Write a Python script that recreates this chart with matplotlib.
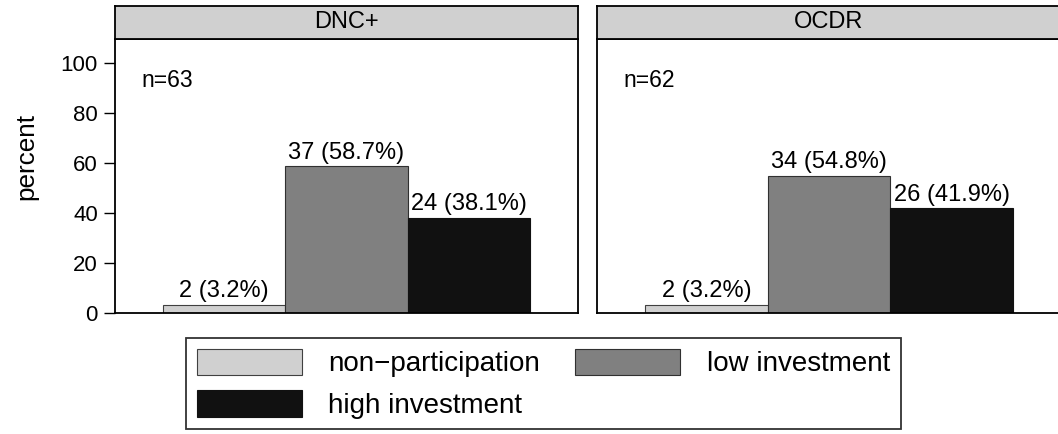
import matplotlib
matplotlib.use("Agg")
import matplotlib.pyplot as plt
from matplotlib.patches import Patch

plt.rcParams['font.family'] = ['Liberation Sans', 'DejaVu Sans']

# Data
panels = ["DNC+", "OCDR"]
group_n = [63, 62]
categories = ["non\u2212participation", "low investment", "high investment"]
counts = {"DNC+": [2, 37, 24], "OCDR": [2, 34, 26]}
percents = {"DNC+": [3.2, 58.7, 38.1], "OCDR": [3.2, 54.8, 41.9]}
y_ticks = [0, 20, 40, 60, 80, 100]

colors = ["#d0d0d0", "#808080", "#111111"]
edge_colors = ["#404040", "#303030", "#111111"]

W, H = 1058, 434
fig = plt.figure(figsize=(W / 100, H / 100), dpi=100)

def px_rect(x0, y0, x1, y1):
    return [x0 / W, 1 - y1 / H, (x1 - x0) / W, (y1 - y0) / H]

panel_px = [(115, 39, 578, 313), (597, 39, 1061, 313)]
strip_px = [(115, 6, 578, 39), (597, 6, 1061, 39)]

xpos = [1, 2, 3]
for i, name in enumerate(panels):
    ax = fig.add_axes(px_rect(*panel_px[i]))
    ax.bar(xpos, percents[name], width=1.0, color=colors,
           edgecolor=edge_colors, linewidth=0.8, zorder=2)
    for x, c, p in zip(xpos, counts[name], percents[name]):
        ax.annotate(f"{c} ({p}%)", (x, p), xytext=(0, 5.5),
                    textcoords="offset points", ha="center", va="baseline",
                    fontsize=17)
    ax.text(0.058, 0.825, f"n={group_n[i]}", transform=ax.transAxes,
            ha="left", va="baseline", fontsize=16.5)
    ax.set_xlim(0.107, 3.893)
    ax.set_ylim(0, 109.6)
    ax.set_xticks([])
    if i == 0:
        ax.set_yticks(y_ticks)
        ax.tick_params(axis="y", length=8, width=1.0, pad=4.3,
                       labelsize=16, direction="out")
    else:
        ax.set_yticks([])
    for s in ax.spines.values():
        s.set_linewidth(1.3)

    sax = fig.add_axes(px_rect(*strip_px[i]))
    sax.set_facecolor("#d0d0d0")
    sax.set_xticks([])
    sax.set_yticks([])
    for s in sax.spines.values():
        s.set_linewidth(1.3)
    sax.text(0.5, 0.5, name, transform=sax.transAxes, ha="center",
             va="center", fontsize=17)

fig.text(26 / W, 1 - 157 / H, "percent", rotation=90, ha="center",
         va="center", fontsize=18.8)

handles = [Patch(facecolor=colors[k], edgecolor=edge_colors[k], linewidth=0.8,
                 label=categories[k]) for k in (0, 2, 1)]
leg = fig.legend(handles=handles, ncol=2, loc="upper left",
                 bbox_to_anchor=(186 / W, 1 - 338 / H), fontsize=20,
                 frameon=True, fancybox=False, edgecolor="black",
                 handlelength=3.78, handleheight=1.1, handletextpad=0.97,
                 columnspacing=1.26, labelspacing=0.45, borderpad=0.38,
                 borderaxespad=0)
leg.get_frame().set_linewidth(1.3)

fig.savefig("out.png", dpi=100)
